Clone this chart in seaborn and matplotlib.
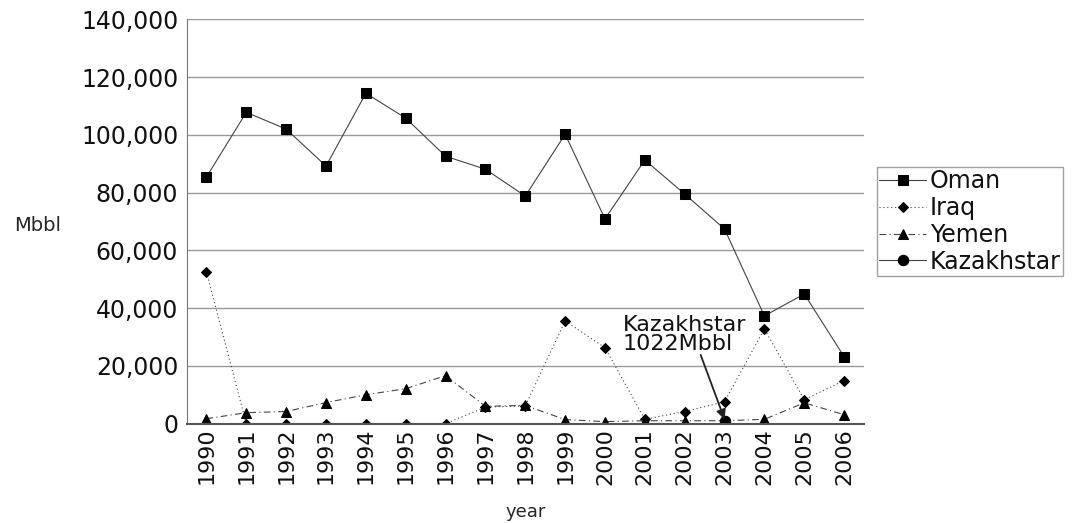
import pandas as pd
import numpy as np
import matplotlib.pyplot as plt
import seaborn as sns

years = list(range(1990, 2007))
oman = [85400, 107800, 102000, 89200, 114400, 105800, 92600, 88100,
        78800, 100200, 70900, 91300, 79500, 67400, 37300, 44900, 23200]
iraq = [52500, 0, 0, 0, 0, 0, 0, 5700,
        6200, 35600, 26300, 1500, 4200, 7600, 32800, 8300, 14900]
yemen = [1700, 3800, 4200, 7300, 10000, 12100, 16600, 6000,
         6300, 1400, 700, 1000, 1000, 1000, 1500, 7200, 3100]
kaz_years = [2003]
kazakhstan = [1022]

# long-form table
frames = []
for name, yrs, vals in [("Oman", years, oman), ("Iraq", years, iraq),
                        ("Yemen", years, yemen), ("Kazakhstar", kaz_years, kazakhstan)]:
    frames.append(pd.DataFrame({"year": yrs, "Mbbl": vals, "country": name}))
df = pd.concat(frames, ignore_index=True)

sns.set_style("white")
plt.rcParams['font.family'] = ['DejaVu Sans']
plt.rcParams['text.color'] = '#111111'

fig, ax = plt.subplots(figsize=(10.72, 5.23), dpi=100)
fig.subplots_adjust(left=0.174, right=0.806, top=0.963, bottom=0.19)

styles = {
    "Oman": dict(marker="s", linestyle="-", markersize=7.5),
    "Iraq": dict(marker="D", linestyle=(0, (1, 2.5)), markersize=5.5),
    "Yemen": dict(marker="^", linestyle=(0, (6, 3, 1, 3)), markersize=7.5),
    "Kazakhstar": dict(marker="o", linestyle="-", markersize=7.5),
}
for name, st in styles.items():
    sub = df[df["country"] == name]
    sns.lineplot(data=sub, x="year", y="Mbbl", ax=ax, color="black", linewidth=0.8,
                 marker=st["marker"], markersize=st["markersize"], linestyle=st["linestyle"],
                 markeredgecolor="black", markerfacecolor="black", label=name)
    ax.lines[-1].set_color("#444444")
    ax.lines[-1].set_markerfacecolor("black")
    ax.lines[-1].set_markeredgecolor("black")

ax.set_ylim(0, 140000)
ax.set_xlim(1989.5, 2006.5)
ax.set_yticks(range(0, 140001, 20000))
ax.set_yticklabels([f"{v:,}" for v in range(0, 140001, 20000)], fontsize=17, color="#111111")
ax.set_xticks(years)
ax.set_xticklabels([str(y) for y in years], rotation=90, fontsize=16, color="#111111")
ax.set_xticks(np.arange(1989.5, 2006.6, 1), minor=True)
ax.tick_params(axis="x", which="major", length=0, pad=3)
ax.tick_params(axis="x", which="minor", direction="in", length=5, color="#888888")
ax.tick_params(axis="y", length=4, width=1, color="#777777", pad=2)

ax.yaxis.grid(True, color="#999999", linewidth=1)
ax.set_axisbelow(True)
for side in ["top", "right"]:
    ax.spines[side].set_visible(False)
ax.spines["left"].set_color("#777777")
ax.spines["bottom"].set_color("#555555")
ax.spines["bottom"].set_linewidth(1.5)

ax.set_ylabel("Mbbl", rotation=0, fontsize=14, va="center")
ax.yaxis.set_label_coords(-0.22, 0.49)
ax.set_xlabel("year", fontsize=13, labelpad=13)

ax.text(2000.44, 31000, "Kazakhstar\n1022Mbbl", fontsize=16, linespacing=0.95,
        va="center", ha="left")
ax.annotate("", xy=(2003, 1500), xytext=(2002.4, 23800),
            arrowprops=dict(arrowstyle="-|>", color="#222222", lw=1.3,
                            shrinkA=0, shrinkB=0, mutation_scale=14))

leg = ax.legend(loc="center left", bbox_to_anchor=(1.019, 0.5), frameon=True,
                fontsize=17, handlelength=2.0, handletextpad=0.15, borderpad=0.1,
                labelspacing=0.12, fancybox=False, borderaxespad=0)
leg.get_frame().set_edgecolor("#888888")
leg.get_frame().set_linewidth(1)

fig.savefig("out.png", dpi=100)
